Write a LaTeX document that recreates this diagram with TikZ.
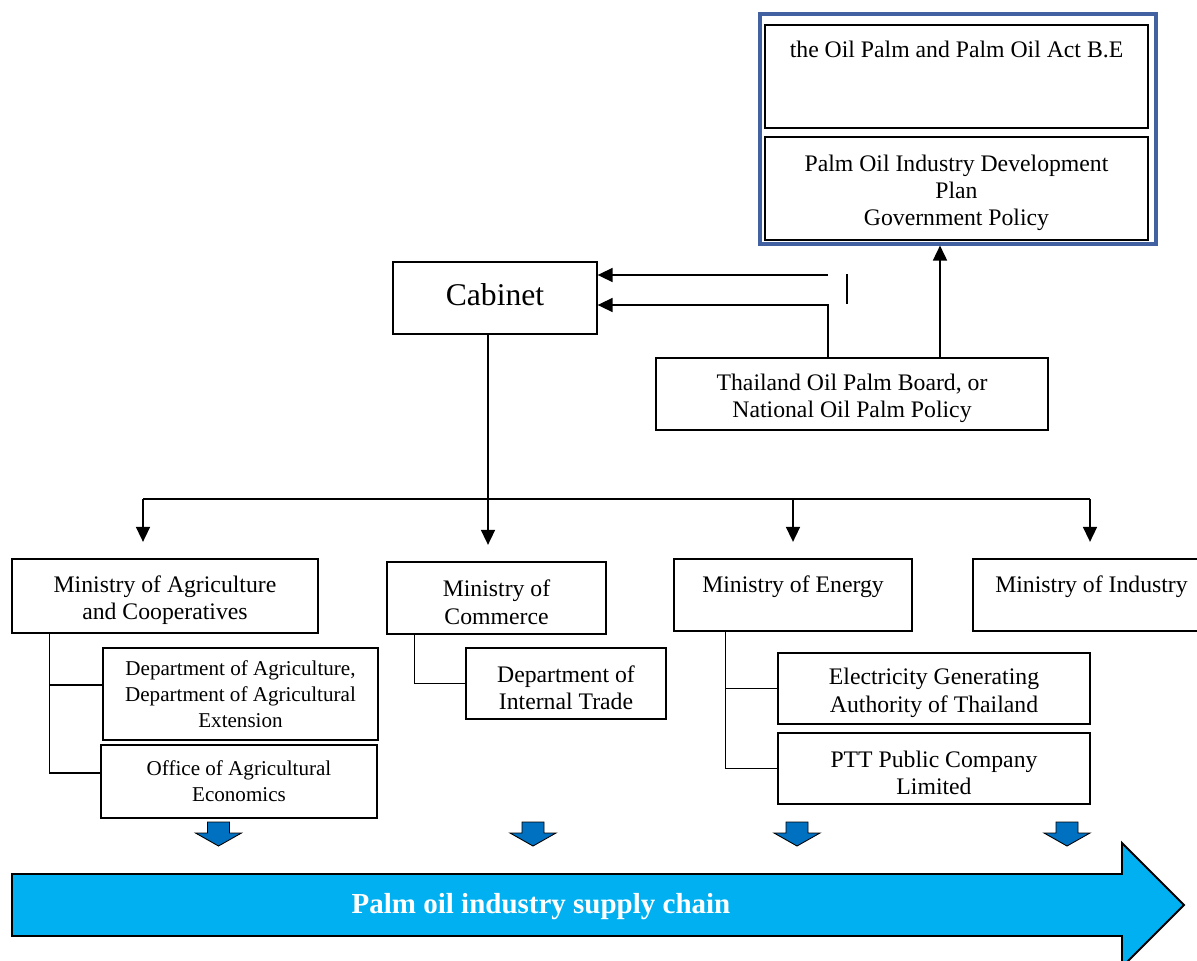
\documentclass[tikz,border=0pt]{standalone}
\usepackage{fontspec}
\setmainfont{Liberation Serif}
\usetikzlibrary{arrows.meta, calc}

\definecolor{frameblue}{RGB}{65,97,160}
\definecolor{chainblue}{RGB}{0,176,240}
\definecolor{dropblue}{RGB}{0,112,192}
\newcommand{\topgap}{\rule{0pt}{14.3pt}}

\begin{document}
\begin{tikzpicture}[
    >={Triangle[length=8.5pt,width=8pt]},
    line width=0.75pt,
    box/.style={draw, rectangle, inner sep=0pt, align=center,
        font=\fontsize{13.5}{15.6}\selectfont},
    unit box/.style={box, font=\fontsize{12}{14.8}\selectfont},
    connection/.style={->, black},
    link/.style={black},
    drop arrow/.style={draw=black, line width=0.5pt, fill=dropblue}
]

\useasboundingbox (0,0) rectangle (23.94,-19.2);
\clip (0,0) rectangle (23.94,-19.2);

% Legal basis and policy frame
\node[draw=frameblue, line width=1.8pt, minimum width=7.92cm, minimum height=4.6cm] (frame) at (19.16,-2.58) {};
\node[box, minimum width=7.66cm, minimum height=2.06cm] (act) at (19.13,-1.53) {the Oil Palm and Palm Oil Act B.E\\\mbox{}\\\mbox{}};
\node[box, minimum width=7.66cm, minimum height=2.06cm] (plan) at (19.13,-3.77) {\topgap Palm Oil Industry Development\\Plan\\Government Policy};

% Cabinet and the board
\node[box, minimum width=4.08cm, minimum height=1.44cm, text depth=4.5pt, font=\fontsize{18}{21}\selectfont] (cabinet) at (9.9,-5.96) {Cabinet};
\node[box, minimum width=7.84cm, minimum height=1.44cm] (board) at (17.04,-7.88) {\topgap Thailand Oil Palm Board, or\\National Oil Palm Policy};

\coordinate (act end) at (16.56,-5.5);
\draw[connection] (act end) -- (cabinet.east |- act end);
\draw[connection] ([xshift=-0.48cm]board.north) |- ([yshift=-0.14cm]cabinet.east);
\draw[link] (16.94,-5.48) -- (16.94,-6.08);  % small tick

\coordinate (up) at ([xshift=1.76cm]board.north);
\draw[connection] (up) -- (up |- frame.south);

% Ministries
\node[box, minimum width=6.12cm, minimum height=1.48cm] (moac) at (3.3,-11.92) {\topgap Ministry of Agriculture\\and Cooperatives};
\node[box, minimum width=4.38cm, minimum height=1.44cm] (moc) at (9.93,-11.96) {\topgap Ministry of\\Commerce};
\node[box, minimum width=4.76cm, minimum height=1.44cm] (moe) at (15.86,-11.9) {Ministry of Energy\\[-3pt]\mbox{}};
\node[box, minimum width=4.74cm, minimum height=1.44cm] (moi) at (21.83,-11.9) {Ministry of Industry\\[-3pt]\mbox{}};

% Cabinet down to the ministries
\coordinate (bus) at (9.76,-9.98);
\draw[link] ([xshift=-0.14cm]cabinet.south) -- (bus);
\foreach \m/\x in {moac/2.86, moc/9.76, moe/15.86, moi/21.8} {
    \coordinate (drop \m) at (\x,-9.98);
    \draw[connection, shorten >=0.33cm] (drop \m) -- (drop \m |- \m.north);
}
\draw[link] (drop moac) -- (drop moi);

% Departments and agencies
\node[unit box, minimum width=5.5cm, minimum height=1.84cm] (doa) at (4.81,-13.88) {Department of Agriculture,\\Department of Agricultural\\Extension};
\node[unit box, minimum width=5.52cm, minimum height=1.46cm] (oae) at (4.78,-15.63) {Office of Agricultural\\Economics};
\node[box, minimum width=4cm, minimum height=1.42cm] (dit) at (11.32,-13.67) {\topgap Department of\\Internal Trade};
\node[box, minimum width=6.24cm, minimum height=1.42cm] (egat) at (18.68,-13.77) {\topgap Electricity Generating\\Authority of Thailand};
\node[box, minimum width=6.24cm, minimum height=1.42cm] (ptt) at (18.68,-15.37) {\topgap PTT Public Company\\Limited};

\draw[link] ([xshift=0.76cm]moac.south west) |- ([yshift=0.18cm]doa.west);
\draw[link] ([xshift=0.76cm]moac.south west) |- ([yshift=0.17cm]oae.west);
\draw[link] ([xshift=0.56cm]moc.south west) |- (dit.west);
\draw[link] ([xshift=1.04cm]moe.south west) |- (egat.west);
\draw[link] ([xshift=1.04cm]moe.south west) |- (ptt.west);

% Small down arrows
\foreach \x in {4.37,10.66,15.94,21.34}
    \draw[drop arrow] ({\x-0.22},-16.44) -- ({\x+0.22},-16.44) -- ({\x+0.22},-16.66) -- ({\x+0.46},-16.66)
        -- (\x,-16.92) -- ({\x-0.46},-16.66) -- ({\x-0.22},-16.66) -- cycle;

% Supply chain arrow
\draw[fill=chainblue, line width=1.1pt] (0.24,-17.48) -- (22.44,-17.48) -- (22.44,-16.86) -- (23.68,-18.1)
    -- (22.44,-19.34) -- (22.44,-18.72) -- (0.24,-18.72) -- cycle;
\node[font=\fontsize{16.5}{19}\selectfont\bfseries, text=white] (chain) at (10.82,-18.14) {Palm oil industry supply chain};

\end{tikzpicture}
\end{document}
